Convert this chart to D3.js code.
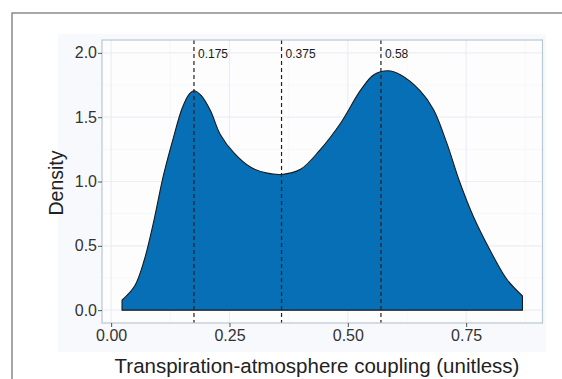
<!DOCTYPE html>
<html>
<head>
<meta charset="utf-8">
<script src="https://cdn.jsdelivr.net/npm/d3@7"></script>
<style>
  body { margin: 0; background: #fff; }
  svg { display: block; font-family: "Liberation Sans", Arial, sans-serif; }
</style>
</head>
<body>
<svg id="chart"></svg>
<script>
// density estimate
const coupling = [0.023, 0.05, 0.07, 0.09, 0.11, 0.13, 0.15, 0.165, 0.175, 0.19, 0.21, 0.23, 0.26, 0.295, 0.33, 0.36, 0.40, 0.44, 0.485, 0.527, 0.555, 0.585, 0.611, 0.653, 0.681, 0.709, 0.737, 0.765, 0.80, 0.836, 0.869];
const density  = [0.078, 0.19, 0.39, 0.69, 1.04, 1.32, 1.57, 1.68, 1.706, 1.67, 1.55, 1.37, 1.22, 1.11, 1.065, 1.055, 1.095, 1.24, 1.455, 1.71, 1.83, 1.861, 1.83, 1.705, 1.56, 1.30, 0.99, 0.73, 0.47, 0.24, 0.11];

const markerPos    = [0.175, 0.36, 0.57];
const markerLabels = ["0.175", "0.375", "0.58"];

const xTicks = [0, 0.25, 0.5, 0.75];
const yTicks = [0, 0.5, 1.0, 1.5, 2.0];

const width = 562, height = 379;
const panel = { left: 102, right: 542.5, top: 40, bottom: 323 };

const svg = d3.select("#chart").attr("width", width).attr("height", height);

const data = coupling.map((c, i) => ({ x: c, y: density[i] }));

const x = d3.scaleLinear().domain([-0.0193, 0.9113]).range([panel.left, panel.right]);
const y = d3.scaleLinear().domain([-0.1, 2.1]).range([panel.bottom, panel.top]);

// outer frame (left + top)
svg.append("path")
  .attr("d", `M12,${height}V13H${width}`)
  .attr("fill", "none")
  .attr("stroke", "#8a8a8a")
  .attr("stroke-width", 1.5);

// faint tinted plot background
svg.append("rect")
  .attr("x", 58).attr("y", 34)
  .attr("width", 488).attr("height", 318)
  .attr("fill", "#f8f9fc");

// panel
svg.append("rect")
  .attr("x", panel.left).attr("y", panel.top)
  .attr("width", panel.right - panel.left).attr("height", panel.bottom - panel.top)
  .attr("fill", "#fdfdfe");

// grid
const xGridMinor = [0.125, 0.375, 0.625, 0.875];
const yGridMinor = [0.25, 0.75, 1.25, 1.75];
const grid = svg.append("g");
grid.selectAll(".vmin").data(xGridMinor).join("line")
  .attr("x1", d => x(d)).attr("x2", d => x(d))
  .attr("y1", panel.top).attr("y2", panel.bottom)
  .attr("stroke", "#f4f5f8").attr("stroke-width", 0.8);
grid.selectAll(".hmin").data(yGridMinor).join("line")
  .attr("y1", d => y(d)).attr("y2", d => y(d))
  .attr("x1", panel.left).attr("x2", panel.right)
  .attr("stroke", "#f4f5f8").attr("stroke-width", 0.8);
grid.selectAll(".vmaj").data(xTicks).join("line")
  .attr("x1", d => x(d)).attr("x2", d => x(d))
  .attr("y1", panel.top).attr("y2", panel.bottom)
  .attr("stroke", "#eceef4").attr("stroke-width", 1.2);
grid.selectAll(".hmaj").data(yTicks).join("line")
  .attr("y1", d => y(d)).attr("y2", d => y(d))
  .attr("x1", panel.left).attr("x2", panel.right)
  .attr("stroke", "#eceef4").attr("stroke-width", 1.2);

// density area
const curve = d3.curveCatmullRom.alpha(0.5);
const area = d3.area()
  .x(d => x(d.x))
  .y0(y(0))
  .y1(d => y(d.y))
  .curve(curve);

const outline = d3.line()
  .x(d => x(d.x))
  .y(d => y(d.y))
  .curve(curve);

svg.append("path")
  .datum(data)
  .attr("d", area)
  .attr("fill", "#066fb5");

// closed outline: vertical ends + baseline
const first = data[0], last = data[data.length - 1];
svg.append("path")
  .attr("d", `M${x(first.x)},${y(0)}` + outline(data).replace(/^M/, "L") + `L${x(last.x)},${y(0)}Z`)
  .attr("fill", "none")
  .attr("stroke", "#1a1a1a")
  .attr("stroke-width", 1.1)
  .attr("stroke-linejoin", "round");

// dashed markers
svg.selectAll(".marker").data(markerPos).join("line")
  .attr("x1", d => x(d)).attr("x2", d => x(d))
  .attr("y1", panel.top).attr("y2", panel.bottom)
  .attr("stroke", "#2b1e18")
  .attr("stroke-width", 1.2)
  .attr("stroke-dasharray", "4 3");

svg.selectAll(".mlabel").data(markerPos).join("text")
  .attr("x", d => x(d) + 4)
  .attr("y", 58)
  .attr("font-size", 12)
  .attr("fill", "#1a1a1a")
  .text((d, i) => markerLabels[i]);

// panel border
svg.append("rect")
  .attr("x", panel.left).attr("y", panel.top)
  .attr("width", panel.right - panel.left).attr("height", panel.bottom - panel.top)
  .attr("fill", "none")
  .attr("stroke", "#b9c6d3")
  .attr("stroke-width", 1.2);

// axes
const xAxis = d3.axisBottom(x).tickValues(xTicks).tickFormat(d3.format(".2f")).tickSize(4).tickPadding(3);
const yAxis = d3.axisLeft(y).tickValues(yTicks).tickFormat(d3.format(".1f")).tickSize(4).tickPadding(1);

const gx = svg.append("g").attr("transform", `translate(0,${panel.bottom})`).call(xAxis);
const gy = svg.append("g").attr("transform", `translate(${panel.left},0)`).call(yAxis);
[gx, gy].forEach(g => {
  g.select(".domain").remove();
  g.selectAll(".tick line").attr("stroke", "#555").attr("stroke-width", 1);
  g.selectAll(".tick text").attr("fill", "#333").attr("font-size", 16)
    .attr("font-family", "Liberation Sans, Arial, sans-serif");
});

// axis titles
svg.append("text")
  .attr("x", 317).attr("y", 373)
  .attr("text-anchor", "middle")
  .attr("font-size", 20.5)
  .attr("fill", "#222")
  .text("Transpiration-atmosphere coupling (unitless)");

svg.append("text")
  .attr("transform", "translate(63,183) rotate(-90)")
  .attr("text-anchor", "middle")
  .attr("font-size", 19.5)
  .attr("fill", "#222")
  .text("Density");
</script>
</body>
</html>
